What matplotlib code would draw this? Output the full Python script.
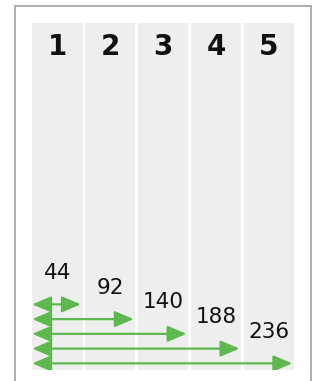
import numpy as np
import matplotlib.pyplot as plt
from matplotlib.patches import Rectangle, FancyArrowPatch

# data
columns = ['1', '2', '3', '4', '5']
widths = [44, 92, 140, 188, 236]
step = 48

green = '#5fb84f'
col_color = '#eeeeee'

fig = plt.figure(figsize=(3.12, 3.81), dpi=100)

# outer frame (open at the bottom, cropped)
frame = Rectangle((15 / 312, -0.05), (310.5 - 15) / 312, 1.05 - 5.7 / 381,
                  transform=fig.transFigure, fill=False,
                  edgecolor='#999999', linewidth=1.1)
fig.patches.append(frame)

ax = fig.add_axes([32.3 / 312, 11 / 381, (294 - 32.3) / 312, (370 - 23.3) / 381])
ax.set_xlim(0, 237.6)
ax.set_ylim(4.45, -19.05)
ax.axis('off')

# columns
lefts = np.arange(len(columns)) * step
ax.bar(lefts, 19.05 + 4.45, width=step - 2.4, bottom=-19.05, align='edge',
       color=col_color, zorder=0)

# column headers
for i, c in enumerate(columns):
    ax.text(lefts[i] + (step - 2.4) / 2, -17.46, c, ha='center', va='center',
            fontsize=20, fontweight='bold', color='#111111', family='DejaVu Sans')

# arrows and labels
for i, w in enumerate(widths):
    arr = FancyArrowPatch((0, i), (w, i),
                          arrowstyle='<|-|>,head_length=11.5,head_width=4.9',
                          mutation_scale=1, shrinkA=0, shrinkB=0,
                          color=green, linewidth=1.6)
    ax.add_patch(arr)
    ax.text(lefts[i] + (step - 2.4) / 2, i - 2.14, str(w), ha='center',
            va='center', fontsize=15.5, color='#111111', family='DejaVu Sans')

fig.savefig('out.png', dpi=100)
